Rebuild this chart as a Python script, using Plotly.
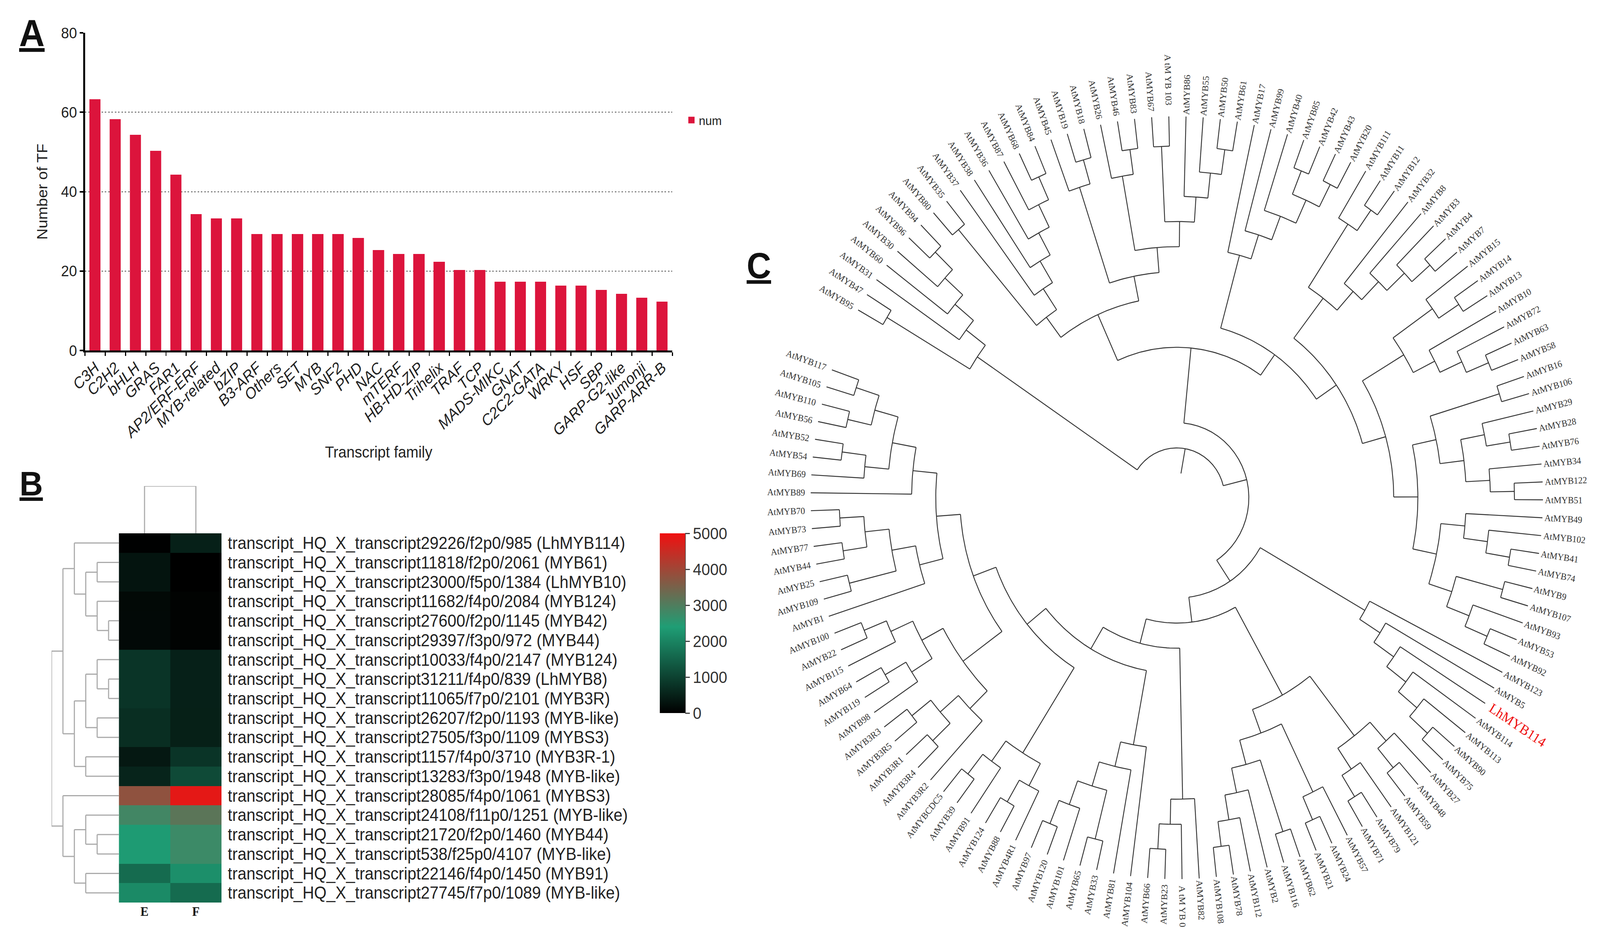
import math
import plotly.graph_objects as go

W, H = 4348, 2411

# ---------- Panel A data ----------
FAMILIES = ["C3H", "C2H2", "bHLH", "GRAS", "FAR1", "AP2/ERF-ERF", "MYB-related", "bZIP", "B3-ARF", "Others",
            "SET", "MYB", "SNF2", "PHD", "NAC", "mTERF", "HB-HD-ZIP", "Trihelix", "TRAF", "TCP",
            "MADS-MIKC", "GNAT", "C2C2-GATA", "WRKY", "HSF", "SBP", "GARP-G2-like", "Jumonji", "GARP-ARR-B"]
TF_COUNTS = [63, 58, 54, 50, 44, 34, 33, 33, 29, 29, 29, 29, 29, 28, 25, 24, 24, 22, 20, 20, 17, 17, 17, 16, 16, 15, 14, 13, 12]

# ---------- Panel B data ----------
TRANSCRIPTS = [
    "transcript_HQ_X_transcript29226/f2p0/985 (LhMYB114)",
    "transcript_HQ_X_transcript11818/f2p0/2061 (MYB61)",
    "transcript_HQ_X_transcript23000/f5p0/1384 (LhMYB10)",
    "transcript_HQ_X_transcript11682/f4p0/2084 (MYB124)",
    "transcript_HQ_X_transcript27600/f2p0/1145 (MYB42)",
    "transcript_HQ_X_transcript29397/f3p0/972 (MYB44)",
    "transcript_HQ_X_transcript10033/f4p0/2147 (MYB124)",
    "transcript_HQ_X_transcript31211/f4p0/839 (LhMYB8)",
    "transcript_HQ_X_transcript11065/f7p0/2101 (MYB3R)",
    "transcript_HQ_X_transcript26207/f2p0/1193 (MYB-like)",
    "transcript_HQ_X_transcript27505/f3p0/1109 (MYBS3)",
    "transcript_HQ_X_transcript1157/f4p0/3710 (MYB3R-1)",
    "transcript_HQ_X_transcript13283/f3p0/1948 (MYB-like)",
    "transcript_HQ_X_transcript28085/f4p0/1061 (MYBS3)",
    "transcript_HQ_X_transcript24108/f11p0/1251 (MYB-like)",
    "transcript_HQ_X_transcript21720/f2p0/1460 (MYB44)",
    "transcript_HQ_X_transcript538/f25p0/4107 (MYB-like)",
    "transcript_HQ_X_transcript22146/f4p0/1450 (MYB91)",
    "transcript_HQ_X_transcript27745/f7p0/1089 (MYB-like)",
]
SAMPLES = ["E", "F"]
EXPR_E = [20, 300, 300, 130, 140, 140, 790, 790, 790, 700, 700, 360, 550, 3790, 2835, 2360, 2360, 1625, 2100]
EXPR_F = [490, 0, 0, 50, 40, 40, 490, 490, 490, 480, 480, 790, 1130, 4850, 3150, 2760, 2760, 2170, 1630]
ROW_TREE = [[[0, [[1, 2], [3, [4, 5]]]], [[[6, [7, 8]], [9, 10]], [11, 12]]],
            [13, [[14, [15, 16]], [17, 18]]]]
HEAT_COLORS = [[0, "#000000"], [0.48, "#1F9E75"], [1, "#F01010"]]
HEAT_TICKS = [0, 1000, 2000, 3000, 4000, 5000]

# ---------- Panel C data (clockwise leaf order) ----------
CLADE_A = [["95", "47"], ["31", ["60", ["30", ["96", "94"]]]]]
CLADE_B = [["80", "35"], ["37", ["38", ["36", ["87", ["68", "84"]]]]]]
CLADE_C = [["45", ["19", "18"]], [["26", ["46", "83"]], [["67", "103"], ["86", ["55", ["50", "61"]]]]]]
CLADE_D = ["17", ["99", ["40", [["85", "42"], ["43", "20"]]]]]
CLADE_E = [["111", ["11", "12"]], ["32", ["8", ["3", ["4", "7"]]]]]
CLADE_F = [["15", ["14", "13"]], ["10", ["72", ["63", "58"]]]]
CLADE_G = [["16", "106"], [["29", ["28", "76"]], ["34", ["122", "51"]]]]
CLADE_H = [["49", ["102", ["41", "74"]]], [["9", "107"], ["93", ["53", "92"]]]]
CLADE_I = ["123", ["5", ["Lh114", ["114", ["113", ["90", "75"]]]]]]
CLADE_J = [["27", ["48", "59"]], ["121", ["79", "71"]]]
CLADE_K = [["57", ["24", "21"]], [["62", "116"], ["2", ["112", ["78", "108"]]]]]
CLADE_L = ["82", ["0", ["23", "66"]]]
CLADE_M = ["104", ["81", [["33", "65"], ["101", ["120", "97"]]]]]
CLADE_N = [["4R1", ["88", "124"]], ["91", ["39", "CDC5"]]]
CLADE_O = [["3R2", [["3R4", "3R1"], ["3R5", "3R3"]]], [["98", ["119", "64"]], ["115", ["22", "100"]]]]
CLADE_P = ["1", [["109", "25"], [["44", "77"], ["73", "70"]]]]
CLADE_Q = ["89", [["69", ["54", "52"]], [["56", "110"], ["105", "117"]]]]
LOWER_LEFT = [CLADE_L, [CLADE_M, [CLADE_N, [CLADE_O, [CLADE_P, CLADE_Q]]]]]
LOWER_RIGHT = [CLADE_I, [[CLADE_J, CLADE_K], LOWER_LEFT]]
UPPER = [[CLADE_B, CLADE_C], [CLADE_D, [CLADE_E, [CLADE_F, [CLADE_G, CLADE_H]]]]]
MYB_TREE = [CLADE_A, [UPPER, LOWER_RIGHT]]
FIRST_LEAF_DEG, LAST_LEAF_DEG = -60.5, 289.6
SPECIAL_NAMES = {"Lh114": "LhMYB114", "103": "A tM YB 103", "0": "A tM YB 0"}

# ---------- page geometry ----------
def fx(px): return px / W
def fy(py): return 1 - py / H

fig = go.Figure()

# ---------- Panel A ----------
fig.add_trace(go.Bar(x=FAMILIES, y=TF_COUNTS, name="num", width=0.46, xaxis="x", yaxis="y",
                     marker=dict(color="#DC143C", line=dict(color="#DC143C", width=5))))

# ---------- Panel B ----------
fig.add_trace(go.Heatmap(z=[[e, f] for e, f in zip(EXPR_E, EXPR_F)], x=SAMPLES, y=TRANSCRIPTS,
                         xaxis="x2", yaxis="y2", zmin=0, zmax=5000, colorscale=HEAT_COLORS, showlegend=False,
                         colorbar=dict(x=fx(1793), xanchor="left", xpad=0, y=fy(1825), yanchor="bottom", ypad=0,
                                       len=460, lenmode="pixels", thickness=69, thicknessmode="pixels",
                                       outlinewidth=0, ticks="outside", ticklen=13, tickwidth=3, tickcolor="#444",
                                       tickvals=HEAT_TICKS, tickfont=dict(size=42, color="#333"))))

dx, dy = [], []
def row_layout(node, depth):
    if isinstance(node, int):
        return node
    ys = [row_layout(c, depth + 1) for c in node]
    for c, y in zip(node, ys):
        x_end = LEAF_DEPTH if isinstance(c, int) else depth + 1
        dx.extend([depth, x_end, None]); dy.extend([y, y, None])
    dx.extend([depth, depth, None]); dy.extend([ys[0], ys[-1], None])
    return (ys[0] + ys[-1]) / 2
LEAF_DEPTH = 5.9
row_layout(ROW_TREE, 0)
fig.add_trace(go.Scatter(x=dx, y=dy, mode="lines", xaxis="x3", yaxis="y3", showlegend=False, hoverinfo="skip",
                         line=dict(color="#aaaaaa", width=3)))
fig.add_trace(go.Scatter(x=[0, 0, 1, 1], y=[0, 1, 1, 0], mode="lines", xaxis="x4", yaxis="y4", showlegend=False,
                         hoverinfo="skip", line=dict(color="#aaaaaa", width=3)))

# ---------- Panel C: circular cladogram; radius follows node height ----------
CX, CY = 3198, 1274
SX, SY = 1.005, 0.986
R_LEAF, R_FIRST, R_STEP, R_STUB = 990, 913, 65.3, 64

def leaves(n):
    return [n] if isinstance(n, str) else [l for c in n for l in leaves(c)]
ALL = leaves(MYB_TREE)
STEP = (LAST_LEAF_DEG - FIRST_LEAF_DEG) / (len(ALL) - 1)

def pol(r, deg):
    a = math.radians(deg)
    return r * math.sin(a), r * math.cos(a)

tx, ty = [], []
def add_seg(pts):
    for p in pts:
        tx.append(p[0]); ty.append(p[1])
    tx.append(None); ty.append(None)

counter = [0]
def layout(node):
    """returns (angle, radius, height)"""
    if isinstance(node, str):
        ang = FIRST_LEAF_DEG + STEP * counter[0]
        counter[0] += 1
        return ang, R_LEAF, 0
    kids = [layout(c) for c in node]
    h = max(k[2] for k in kids) + 1
    r = R_FIRST - R_STEP * (h - 1)
    a0, a1 = kids[0][0], kids[-1][0]
    n = max(2, int(abs(a1 - a0) / 1.0) + 2)
    add_seg([pol(r, a0 + (a1 - a0) * i / (n - 1)) for i in range(n)])
    for k in kids:
        add_seg([pol(r, k[0]), pol(k[1], k[0])])
    return (a0 + a1) / 2, r, h
root_a, root_r, _ = layout(MYB_TREE)
add_seg([pol(root_r, root_a), pol(R_STUB, root_a)])
fig.add_trace(go.Scatter(x=tx, y=ty, mode="lines", xaxis="x5", yaxis="y5", showlegend=False, hoverinfo="skip",
                         line=dict(color="#333333", width=2.4)))

annotations = []
for i, leaf in enumerate(ALL):
    deg = FIRST_LEAF_DEG + STEP * i
    name = SPECIAL_NAMES.get(leaf, "AtMYB" + leaf)
    lh = leaf == "Lh114"
    size = 36 if lh else 24
    length = len(name) * size * 0.6
    norm = deg % 360
    right = norm <= 180
    gap = 6 if right else 16
    if lh:
        gap = 18
    x, y = pol(R_LEAF + gap + length / 2, deg)
    angle = norm - 90 if right else norm - 270
    annotations.append(dict(x=x, y=y, xref="x5", yref="y5", text=name, textangle=angle, showarrow=False,
                            xanchor="center", yanchor="middle",
                            font=dict(family="Liberation Serif", size=size, color="#ee1111" if lh else "#333333")))

for letter, px, py, size in [("A", 86, 84, 96), ("B", 85, 1237, 88), ("C", 2062, 680, 92)]:
    annotations.append(dict(x=fx(px), y=fy(py), xref="paper", yref="paper", text=f"<b><u>{letter}</u></b>",
                            showarrow=False, xanchor="center", yanchor="middle",
                            font=dict(family="Liberation Sans", size=size, color="#111")))

hidden = dict(visible=False, showgrid=False, zeroline=False)
fig.update_layout(
    width=W, height=H, margin=dict(l=0, r=0, t=0, b=0, autoexpand=False), autosize=False,
    paper_bgcolor="white", plot_bgcolor="white",
    font=dict(family="Liberation Sans", color="#222"),
    bargap=0,
    showlegend=True,
    legend=dict(x=fx(1859), y=fy(280), xanchor="left", yanchor="top", bgcolor="rgba(0,0,0,0)",
                font=dict(size=32, color="#222")),
    xaxis=dict(domain=[fx(231), fx(1827)], anchor="y", type="category", tickson="boundaries", range=[-0.5, 28.5],
               categoryorder="array", categoryarray=FAMILIES, tickmode="array", tickvals=FAMILIES,
               showline=True, linecolor="#000", linewidth=5, ticks="outside", ticklen=9, tickwidth=3, tickcolor="#000",
               tickangle=-43, tickfont=dict(size=40, style="italic", color="#222"),
               title=dict(text="Transcript family", font=dict(size=40, color="#222"), standoff=16), showgrid=False),
    yaxis=dict(domain=[fy(897), fy(84)], anchor="x", range=[0, 80], tickvals=[0, 20, 40, 60, 80],
               showline=True, linecolor="#000", linewidth=5, ticks="outside", ticklen=9, tickwidth=4, tickcolor="#000",
               tickfont=dict(size=39, color="#222"), showgrid=True, gridcolor="#555", griddash="4px,5px", gridwidth=2,
               zeroline=False, title=dict(text="Number of TF", font=dict(size=40, color="#222"), standoff=26)),
    xaxis2=dict(domain=[fx(323), fx(602)], anchor="y2", type="category", range=[-0.5, 1.5], showgrid=False,
                zeroline=False, ticks="", tickfont=dict(family="Liberation Serif", size=33, weight="bold", color="#111"),
                ticklabelstandoff=0),
    yaxis2=dict(domain=[fy(2310), fy(1365)], anchor="x2", type="category", side="right", range=[18.5, -0.5],
                tickmode="array", tickvals=TRANSCRIPTS, ticks="", showgrid=False, zeroline=False, ticklabelstandoff=16,
                tickfont=dict(size=43.5, color="#222")),
    xaxis3=dict(domain=[fx(140), fx(323)], anchor="y3", range=[0, LEAF_DEPTH], **hidden),
    yaxis3=dict(domain=[fy(2310), fy(1365)], anchor="x3", range=[18.5, -0.5], **hidden),
    xaxis4=dict(domain=[fx(323), fx(602)], anchor="y4", range=[-0.5, 1.5], **hidden),
    yaxis4=dict(domain=[fy(1365), fy(1244)], anchor="x4", range=[0, 1], **hidden),
    xaxis5=dict(domain=[fx(1950), 1], anchor="y5", range=[(1950 - CX) / SX, (W - CX) / SX], **hidden),
    yaxis5=dict(domain=[0, 1], anchor="x5", range=[-(H - CY) / SY, CY / SY], **hidden),
    annotations=annotations,
    shapes=[dict(type="line", xref="paper", yref="paper", x0=fx(1862), x1=fx(1862), y0=fy(1825), y1=fy(1365),
                 line=dict(color="#444", width=3))],
)
# The browser caps its window below the requested width: fit the page to whatever width it really got.
FIT_PAGE = """
document.body.style.margin='0';
document.documentElement.style.overflow='hidden';
var gd=document.getElementById('{plot_id}');
gd.style.transformOrigin='0 0';
gd.style.transform='scaleX('+(window.innerWidth/%d)+')';
""" % W
fig.write_html("out.html", post_script=FIT_PAGE, config={"displayModeBar": False})
